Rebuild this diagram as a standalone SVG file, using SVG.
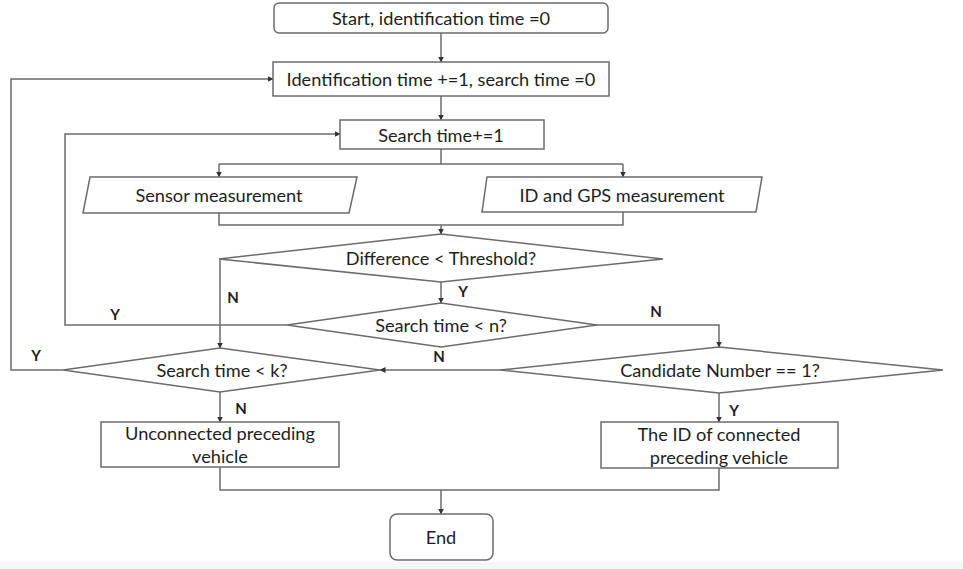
<svg xmlns="http://www.w3.org/2000/svg" width="963" height="569" viewBox="0 0 963 569">
<defs>
<marker id="ah" viewBox="0 0 6 6" refX="5.5" refY="3" markerWidth="6" markerHeight="6" markerUnits="userSpaceOnUse" orient="auto">
<path d="M0,0 L6,3 L0,6 z" fill="#333"/>
</marker>
<style>
.shape{fill:#fff;stroke:#6b6b6b;stroke-width:1.5}
.line{fill:none;stroke:#6b6b6b;stroke-width:1.5}
.arr{marker-end:url(#ah)}
text{font-family:Lato,"Open Sans","Liberation Sans",sans-serif;font-size:18.2px;fill:#1e1e1e;text-anchor:middle;dominant-baseline:central}
.lbl{font-weight:bold;font-size:15px}
</style>
</defs>
<rect x="0" y="0" width="963" height="569" fill="#fff"/>
<rect x="0" y="562" width="963" height="7" fill="#f6f6f6"/>

<g id="connectors">
<path class="line arr" d="M441,33 V62"/>
<path class="line arr" d="M441,96 V120"/>
<path class="line" d="M441,149 V164 M219,164 H623"/>
<path class="line arr" d="M219,164 V177"/>
<path class="line arr" d="M623,164 V177"/>
<path class="line" d="M219,213 V225 H623 V212"/>
<path class="line arr" d="M441,225 V234"/>
<path class="line arr" d="M220,259 V348"/>
<path class="line arr" d="M441,282 V303"/>
<path class="line arr" d="M287,325 H65 V134 H340"/>
<path class="line arr" d="M597,325 H719 V347"/>
<path class="line arr" d="M500,370 H380"/>
<path class="line arr" d="M63,370 H11 V79 H273"/>
<path class="line arr" d="M220,392 V422"/>
<path class="line arr" d="M719,393 V422"/>
<path class="line" d="M220,467 V490 H719 V468"/>
<path class="line arr" d="M441,490 V514"/>
<text class="lbl" x="233" y="297">N</text>
<text class="lbl" x="463" y="291">Y</text>
<text class="lbl" x="115" y="314">Y</text>
<text class="lbl" x="656" y="311">N</text>
<text class="lbl" x="439" y="356">N</text>
<text class="lbl" x="36" y="355">Y</text>
<text class="lbl" x="241" y="408">N</text>
<text class="lbl" x="734" y="410">Y</text>
</g>

<g id="start">
<rect class="shape" x="274" y="3" width="334" height="30" rx="5"/>
<text x="441" y="18">Start, identification time =0</text>
</g>
<g id="ident">
<rect class="shape" x="273" y="62" width="336" height="34"/>
<text x="441" y="79">Identification time +=1, search time =0</text>
</g>
<g id="search">
<rect class="shape" x="340" y="120" width="204" height="29"/>
<text x="441" y="134.5">Search time+=1</text>
</g>
<g id="sensor">
<polygon class="shape" points="90,177 357,177 349,213 83,213"/>
<text x="219" y="195">Sensor measurement</text>
</g>
<g id="gps">
<polygon class="shape" points="487,177 762,177 756,212 482,212"/>
<text x="622" y="194.5">ID and GPS measurement</text>
</g>
<g id="diff">
<polygon class="shape" points="441,234 663,259 441,282 219,259"/>
<text x="441" y="258">Difference &lt; Threshold?</text>
</g>
<g id="searchn">
<polygon class="shape" points="441,303 597,325 441,347 287,325"/>
<text x="441" y="325">Search time &lt; n?</text>
</g>
<g id="searchk">
<polygon class="shape" points="220,348 380,370 220,392 63,370"/>
<text x="222" y="370">Search time &lt; k?</text>
</g>
<g id="cand">
<polygon class="shape" points="719,347 943,370 719,393 500,370"/>
<text x="720" y="370">Candidate Number == 1?</text>
</g>
<g id="unconnected">
<rect class="shape" x="101" y="422" width="238" height="45"/>
<text x="220" y="433">Unconnected preceding</text>
<text x="220" y="456">vehicle</text>
</g>
<g id="connected">
<rect class="shape" x="601" y="422" width="237" height="46"/>
<text x="719" y="434">The ID of connected</text>
<text x="719" y="457">preceding vehicle</text>
</g>
<g id="end">
<rect class="shape" x="390" y="514" width="103" height="46" rx="7"/>
<text x="441" y="537">End</text>
</g>
</svg>
